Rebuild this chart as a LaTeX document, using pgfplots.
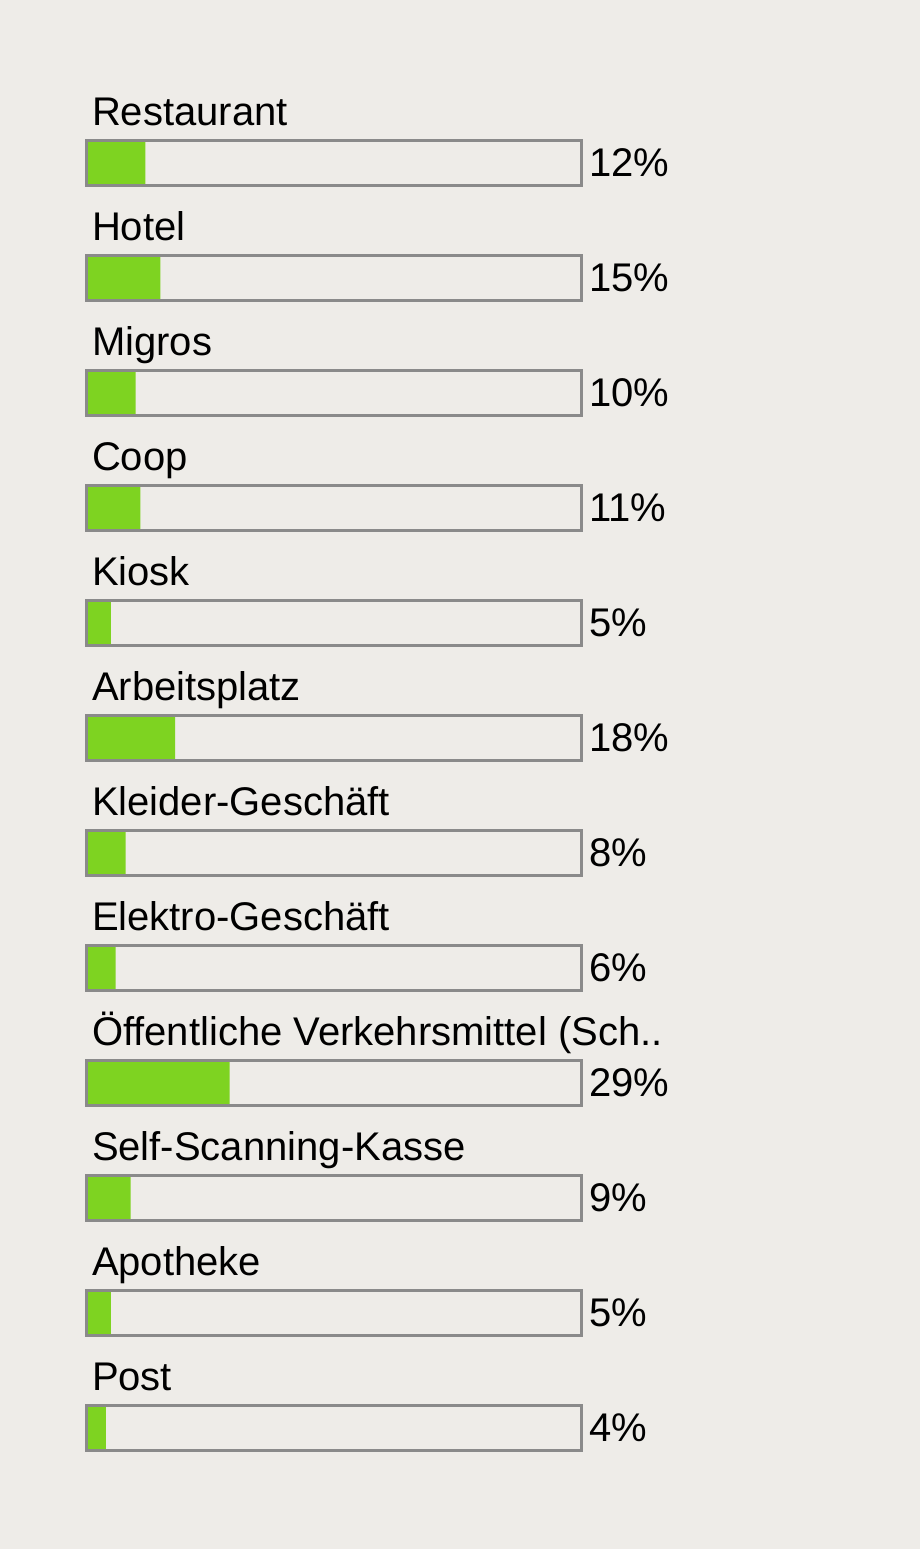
\documentclass[border=0pt]{standalone}
\usepackage{pgfplots}
\usepackage{pgfplotstable}
\usepackage{fontspec}
\setmainfont{Liberation Sans}
\pgfplotsset{compat=1.18}
\definecolor{bg}{HTML}{EEECE8}
\definecolor{bargreen}{HTML}{7ED321}
\definecolor{framegray}{HTML}{8A8A8A}

\pgfplotstableread[col sep=comma]{
y,val,name
0,12,Restaurant
1,15,Hotel
2,10,Migros
3,11,Coop
4,5,Kiosk
5,18,Arbeitsplatz
6,8,Kleider-Geschäft
7,6,Elektro-Geschäft
8,29,Öffentliche Verkehrsmittel (Sch..
9,9,Self-Scanning-Kasse
10,5,Apotheke
11,4,Post
}\datatable

\begin{document}
\begin{tikzpicture}
\path[use as bounding box, fill=bg] (0,0) rectangle (460pt,774.5pt);
\begin{axis}[
    at={(43pt,3.25pt)}, anchor=south west,
    scale only axis,
    width=247.5pt, height=747.5pt,
    xmin=0, xmax=100, ymin=-1, ymax=12,
    y dir=reverse,
    hide axis,
    clip=false,
    /pgf/number format/assume math mode=true,
    every node near coord/.style={font=\fontsize{20}{24}\selectfont, text=black, inner sep=0pt},
]
% green bars
\addplot[xbar, bar shift=0pt, bar width=22.5pt, fill=bargreen, draw=none]
    table[x=val, y=y] {\datatable};
% frames with percentages
\addplot[xbar, bar shift=0pt, bar width=22.5pt, fill=none, draw=framegray, line width=1.5pt,
    point meta=explicit,
    nodes near coords={\pgfmathprintnumber{\pgfplotspointmeta}\%},
    every node near coord/.append style={anchor=base west, xshift=3.3pt, yshift=-7pt}]
    table[x expr=100, y=y, meta=val] {\datatable};
% category labels
\addplot[draw=none, mark=none,
    point meta=explicit symbolic,
    nodes near coords,
    every node near coord/.append style={anchor=base west, xshift=2.8pt, yshift=18.5pt}]
    table[x expr=0, y=y, meta=name] {\datatable};
\end{axis}
\end{tikzpicture}
\end{document}
